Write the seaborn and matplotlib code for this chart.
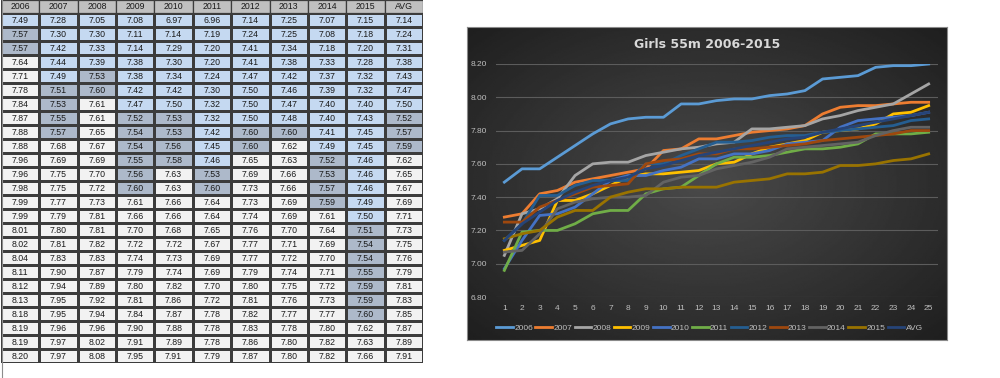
import numpy as np
import pandas as pd
import matplotlib
matplotlib.use('Agg')
import matplotlib.pyplot as plt
import seaborn as sns
from matplotlib.colors import ListedColormap
from matplotlib.patches import Rectangle

# --- data (Girls 55m, top 25 times per season) ---
years = ['2006', '2007', '2008', '2009', '2010', '2011', '2012', '2013', '2014', '2015', 'AVG']
places = list(range(1, 26))

t2006 = [7.49, 7.57, 7.57, 7.64, 7.71, 7.78, 7.84, 7.87, 7.88, 7.88, 7.96, 7.96, 7.98,
         7.99, 7.99, 8.01, 8.02, 8.04, 8.11, 8.12, 8.13, 8.18, 8.19, 8.19, 8.20]
t2007 = [7.28, 7.30, 7.42, 7.44, 7.49, 7.51, 7.53, 7.55, 7.57, 7.68, 7.69, 7.75, 7.75,
         7.77, 7.79, 7.80, 7.81, 7.83, 7.90, 7.94, 7.95, 7.95, 7.96, 7.97, 7.97]
t2008 = [7.05, 7.30, 7.33, 7.39, 7.53, 7.60, 7.61, 7.61, 7.65, 7.67, 7.69, 7.70, 7.72,
         7.73, 7.81, 7.81, 7.82, 7.83, 7.87, 7.89, 7.92, 7.94, 7.96, 8.02, 8.08]
t2009 = [7.08, 7.11, 7.14, 7.38, 7.38, 7.42, 7.47, 7.52, 7.54, 7.54, 7.55, 7.56, 7.60,
         7.61, 7.66, 7.70, 7.72, 7.74, 7.79, 7.80, 7.81, 7.84, 7.90, 7.91, 7.95]
t2010 = [6.97, 7.14, 7.29, 7.30, 7.34, 7.42, 7.50, 7.53, 7.53, 7.56, 7.58, 7.63, 7.63,
         7.66, 7.66, 7.68, 7.72, 7.73, 7.74, 7.82, 7.86, 7.87, 7.88, 7.89, 7.91]
t2011 = [6.96, 7.19, 7.20, 7.20, 7.24, 7.30, 7.32, 7.32, 7.42, 7.45, 7.46, 7.53, 7.60,
         7.64, 7.64, 7.65, 7.67, 7.69, 7.69, 7.70, 7.72, 7.78, 7.78, 7.78, 7.79]
t2012 = [7.14, 7.24, 7.41, 7.41, 7.47, 7.50, 7.50, 7.50, 7.60, 7.60, 7.65, 7.69, 7.73,
         7.73, 7.74, 7.76, 7.77, 7.77, 7.79, 7.80, 7.81, 7.82, 7.83, 7.86, 7.87]
t2013 = [7.25, 7.25, 7.34, 7.38, 7.42, 7.46, 7.47, 7.48, 7.60, 7.62, 7.63, 7.66, 7.66,
         7.69, 7.69, 7.70, 7.71, 7.72, 7.74, 7.75, 7.76, 7.77, 7.78, 7.80, 7.80]
t2014 = [7.07, 7.08, 7.18, 7.33, 7.37, 7.39, 7.40, 7.40, 7.41, 7.49, 7.52, 7.53, 7.57,
         7.59, 7.61, 7.64, 7.69, 7.70, 7.71, 7.72, 7.73, 7.77, 7.80, 7.82, 7.82]
t2015 = [7.15, 7.18, 7.20, 7.28, 7.32, 7.32, 7.40, 7.43, 7.45, 7.45, 7.46, 7.46, 7.46,
         7.49, 7.50, 7.51, 7.54, 7.54, 7.55, 7.59, 7.59, 7.60, 7.62, 7.63, 7.66]
t_avg = [7.14, 7.24, 7.31, 7.38, 7.43, 7.47, 7.50, 7.52, 7.57, 7.59, 7.62, 7.65, 7.67,
         7.69, 7.71, 7.73, 7.75, 7.76, 7.79, 7.81, 7.83, 7.85, 7.87, 7.89, 7.91]

columns = [t2006, t2007, t2008, t2009, t2010, t2011, t2012, t2013, t2014, t2015, t_avg]

# conditional-format cut-offs used in the sheet
BLUE_MAX = 7.505
DARK_MAX = 7.605

line_colors = ['#5b9bd5', '#ed7d31', '#a5a5a5', '#ffc000', '#4472c4', '#70ad47',
               '#255e91', '#9e480e', '#636363', '#997300', '#264478']

wide = pd.DataFrame(dict(zip(years, columns)), index=places)
long_df = wide.reset_index().melt(id_vars='index', var_name='Year', value_name='Time')
long_df = long_df.rename(columns={'index': 'Place'})

fig = plt.figure(figsize=(10, 3.78), dpi=100)

# ---------------- table ----------------
vals = wide.values
codes = np.where(vals < BLUE_MAX, 0, np.where(vals < DARK_MAX, 1, 2))
annot = np.vectorize(lambda v: f'{v:.2f}')(vals)

tab = fig.add_axes([0.001, 1 - 363 / 378, 0.422, 363 / 378])
sns.heatmap(codes, annot=annot, fmt='', cbar=False,
            cmap=ListedColormap(['#c5d9f1', '#adb9ca', '#f2f2f2']), vmin=-0.5, vmax=2.5,
            linewidths=0.9, linecolor='#3c3c3c', xticklabels=False, yticklabels=False,
            annot_kws={'fontsize': 6.3, 'color': '#1a1a1a', 'family': 'Liberation Sans'},
            ax=tab)
hh = 0.93
for j, y in enumerate(years):
    tab.add_patch(Rectangle((j, -hh), 1, hh, facecolor='#c0c0c0', edgecolor='#3c3c3c', lw=0.9))
    tab.text(j + 0.5, -hh / 2, y, ha='center', va='center', fontsize=6.3,
             color='#1a1a1a', family='Liberation Sans')
tab.set_ylim(25, -hh)
tab.set_xlim(0, len(years))
for s in tab.spines.values():
    s.set_visible(False)
fig.add_artist(plt.Line2D([0.0015, 0.0015], [0, 1], color='#8c8c8c', lw=0.8))

# ---------------- chart ----------------
bg = fig.add_axes([0.467, 1 - 340 / 378, 0.480, 313 / 378])
yy, xx = np.mgrid[-1:1:200j, -1:1:300j]
r = np.sqrt(xx ** 2 + (yy * 1.0) ** 2) / np.sqrt(2)
shade = np.clip(0.29 - 0.17 * r, 0, 1)
bg.imshow(shade, cmap='gray', vmin=0, vmax=1, aspect='auto', extent=[0, 1, 0, 1])
bg.set_xticks([])
bg.set_yticks([])
for s in bg.spines.values():
    s.set_color('#8a8a8a')
    s.set_linewidth(0.8)

ax = fig.add_axes([0.4955, 1 - 297 / 378, 0.442, 233 / 378])
ax.patch.set_alpha(0)
sns.lineplot(data=long_df, x='Place', y='Time', hue='Year', hue_order=years,
             palette=dict(zip(years, line_colors)), linewidth=2.0, ax=ax)
ax.set_xlim(0.5, 25.5)
ax.set_ylim(6.8, 8.2)
ax.set_xticks(places)
ax.set_yticks(np.arange(6.8, 8.21, 0.2))
ax.yaxis.set_major_formatter(matplotlib.ticker.FormatStrFormatter('%.2f'))
ax.set_xlabel('')
ax.set_ylabel('')
ax.grid(axis='y', color='#5c5c5c', lw=0.8)
ax.set_axisbelow(True)
for s in ax.spines.values():
    s.set_visible(False)
ax.tick_params(length=0, colors='#bfbfbf', labelsize=6, pad=6)
for lab in ax.get_xticklabels() + ax.get_yticklabels():
    lab.set_family('Liberation Sans')

handles, labels = ax.get_legend_handles_labels()
for h in handles:
    h.set_linewidth(2.0)
ax.legend(handles, labels, ncol=11, loc='center', bbox_to_anchor=(0.484, -0.135),
          frameon=False, prop={'family': 'Liberation Sans', 'size': 6},
          labelcolor='#bfbfbf', handlelength=2.0, handletextpad=0.15, columnspacing=0.3)

fig.text(0.707, 1 - 44 / 378, 'Girls 55m 2006-2015', ha='center', va='center',
         color='#d9d9d9', fontsize=9, fontweight='bold')

fig.savefig('out.png', dpi=100)
